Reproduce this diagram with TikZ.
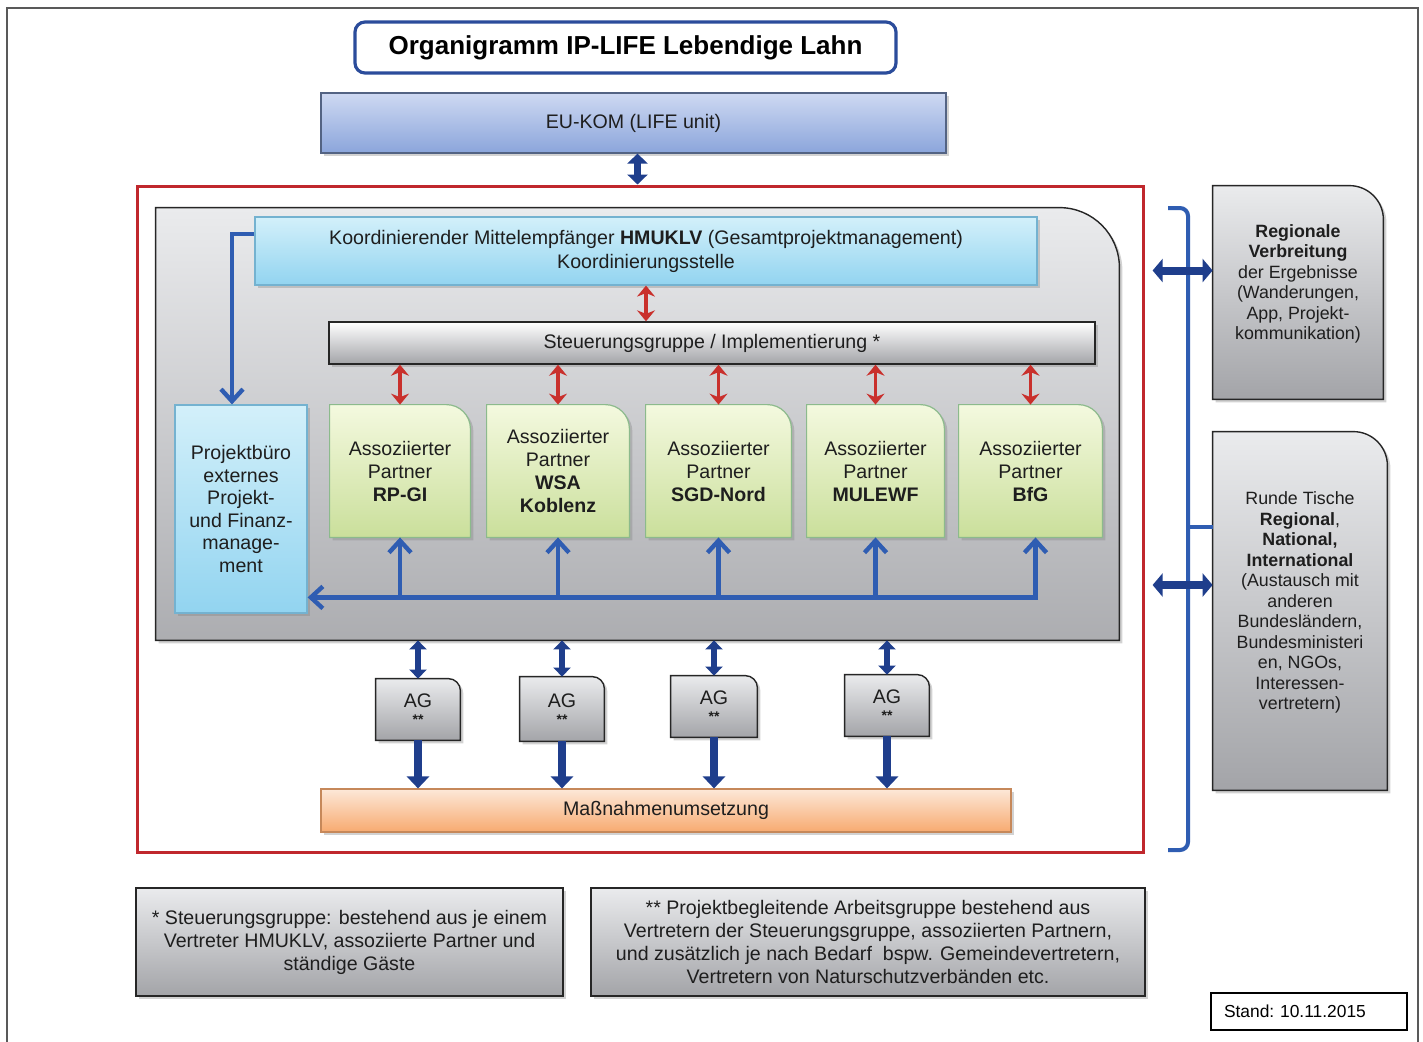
\documentclass[tikz,border=0pt]{standalone}
\usepackage{fontspec}
\setmainfont{Liberation Sans}
\usepackage{tikz}
\usetikzlibrary{calc}
\usetikzlibrary{arrows.meta}
\usetikzlibrary{shadows}
\pgfdeclarelayer{background}
\pgfsetlayers{background,main}

\definecolor{navy}{HTML}{1F3E8C}
\definecolor{linkblue}{HTML}{2F5DB2}
\definecolor{titleblue}{HTML}{2B4C9B}
\definecolor{framered}{HTML}{C0282D}
\definecolor{arrowred}{HTML}{C9302C}
\definecolor{textgray}{HTML}{1E1E1E}
\definecolor{grayhi}{HTML}{EAEBED}
\definecolor{graylo}{HTML}{A3A4A8}
\definecolor{euhi}{HTML}{CED9F2}
\definecolor{eulo}{HTML}{8BA5DB}
\definecolor{cyanhi}{HTML}{D3F0FA}
\definecolor{cyanlo}{HTML}{92D4F0}
\definecolor{greenhi}{HTML}{F4F9DF}
\definecolor{greenlo}{HTML}{CADF9B}
\definecolor{orangehi}{HTML}{FDE8D8}
\definecolor{orangelo}{HTML}{F7AA70}
\colorlet{greenline}{green!40!black!45}
\definecolor{cyanline}{HTML}{74B2D0}

\tikzset{
	box/.style={inner sep=0pt, align=center, text=textgray, font=\fontsize{9.8}{11.5}\selectfont},
	shade/.style={drop shadow={opacity=0.35, shadow xshift=1.5pt, shadow yshift=-1.5pt}},
	grayfill/.style={draw=black!85, line width=0.7pt, top color=#1, bottom color=graylo},
	grayfill/.default={grayhi},
	greenfill/.style={draw=greenline, line width=0.6pt, top color=greenhi, bottom color=greenlo, shade},
	cyanfill/.style={draw=cyanline, line width=0.6pt, top color=cyanhi, bottom color=cyanlo, shade},
	redarrow/.style={draw=arrowred, line width=1.8pt, {Stealth[length=5.5pt,width=9pt]}-{Stealth[length=5.5pt,width=9pt]}},
	navyboth/.style={draw=navy, line width=3pt, {Triangle[length=4.5pt,width=8.5pt]}-{Triangle[length=4.5pt,width=8.5pt]}},
	navydown/.style={draw=navy, line width=4pt, -{Triangle[length=6pt,width=11pt]}},
	bus/.style={draw=linkblue, line width=2.2pt},
	barb/.tip={Straight Barb[length=6pt,width=11pt]}
}

% box with one round corner (top right), drawn behind its node
\newcommand{\trframe}[3]{%
	\begin{pgfonlayer}{background}
		\draw[#3] (#1.south west) -- (#1.north west) -- ([xshift=-#2]#1.north east)
			arc[start angle=90, end angle=0, radius=#2] -- (#1.south east) -- cycle;
	\end{pgfonlayer}}

\begin{document}
\begin{tikzpicture}[x=0.5pt, y=-0.5pt]
	\useasboundingbox (0,0) rectangle (1423,1041);
	\begin{pgfonlayer}{background}
		\fill [white] (0,0) rectangle (1423,1041);
	\end{pgfonlayer}
	\draw [black!65, line width=0.8pt] (7,1060) -- (7,8) -- (1418,8) -- (1418,1060);

	%Title

	\node (title) [draw=titleblue, line width=1.6pt, rounded corners=5pt, minimum width=270.5pt, minimum height=25.5pt, inner sep=0pt, font=\fontsize{13}{15}\selectfont\bfseries] at (625.5,47.5) {Organigramm IP-LIFE Lebendige Lahn};

	\node (eu) [box, draw=eulo!60!black, line width=0.6pt, top color=euhi, bottom color=eulo, shade, minimum width=312.5pt, minimum height=30pt] at (633.5,123) {EU-KOM (LIFE unit)};

	%Project frame

	\node (frame) [draw=framered, line width=1.5pt, minimum width=503pt, minimum height=333pt, inner sep=0pt] at (640,519) {};

	\node (core) [box, minimum width=481.5pt, minimum height=216pt] at (637.5,424) {};
	\trframe{core}{30pt}{grayfill, bottom color=graylo!90!white, shade}

	\node (koord) [box, cyanfill, minimum width=391pt, minimum height=34pt, font=\fontsize{9.8}{12}\selectfont] at (646,251) {Koordinierender Mittelempfänger \textbf{HMUKLV} (Gesamtprojektmanagement)\\Koordinierungsstelle};

	\node (steuer) [box, grayfill=white, shade, minimum width=383pt, minimum height=21pt] at (712,343) {Steuerungsgruppe / Implementierung *};

	\node (buero) [box, cyanfill, minimum width=66pt, minimum height=104pt, font=\fontsize{9.8}{11.3}\selectfont] at (241,509) {Projektbüro\\externes\\Projekt-\\und Finanz-\\manage-\\ment};

	%Partner

	\node (p1) [box, minimum width=70pt, minimum height=66pt] at (400,471) {Assoziierter\\Partner\\\textbf{RP-GI}};
	\node (p2) [box, minimum width=71pt, minimum height=66pt] at (558,471) {Assoziierter\\Partner\\\textbf{WSA}\\\textbf{Koblenz}};
	\node (p3) [box, minimum width=72.5pt, minimum height=66pt] at (718.5,471) {Assoziierter\\Partner\\\textbf{SGD-Nord}};
	\node (p4) [box, minimum width=68.5pt, minimum height=66pt] at (875.5,471) {Assoziierter\\Partner\\\textbf{MULEWF}};
	\node (p5) [box, minimum width=71.5pt, minimum height=66pt] at (1030.5,471) {Assoziierter\\Partner\\\textbf{BfG}};
	\foreach \p in {p1,p2,p3,p4,p5} {\trframe{\p}{12pt}{greenfill}}

	%AG

	\node (ag1) [box, minimum width=42pt, minimum height=30.5pt] at (418,709.5) {AG\\[-3pt]{\scriptsize\bfseries **}};
	\node (ag2) [box, minimum width=42pt, minimum height=32pt] at (562,709) {AG\\[-3pt]{\scriptsize\bfseries **}};
	\node (ag3) [box, minimum width=43pt, minimum height=30.5pt] at (714,706.5) {AG\\[-3pt]{\scriptsize\bfseries **}};
	\node (ag4) [box, minimum width=42pt, minimum height=30.5pt] at (887,705.5) {AG\\[-3pt]{\scriptsize\bfseries **}};
	\foreach \a in {ag1,ag2,ag3,ag4} {\trframe{\a}{6pt}{grayfill, shade}}

	\node (mass) [box, draw=orangelo!80!black, line width=0.6pt, top color=orangehi, bottom color=orangelo, shade, minimum width=345pt, minimum height=21.5pt] at (666,810.5) {Maßnahmenumsetzung};

	%Right side

	\node (reg) [box, minimum width=85pt, minimum height=106.5pt, font=\fontsize{8.9}{10.25}\selectfont] at (1298,292.5) {\textbf{Regionale}\\\textbf{Verbreitung}\\der Ergebnisse\\(Wanderungen,\\App, Projekt-\\kommunikation)\\~};
	\trframe{reg}{17pt}{grayfill, shade}

	\node (rund) [box, minimum width=87pt, minimum height=179pt, font=\fontsize{8.9}{10.25}\selectfont] at (1300,611) {Runde Tische\\\textbf{Regional},\\\textbf{National,}\\\textbf{International}\\(Austausch mit\\anderen\\Bundesländern,\\Bundesministeri\\en, NGOs,\\Interessen-\\vertretern)\\~};
	\trframe{rund}{17pt}{grayfill, shade}

	%Notes

	\node (note1) [box, grayfill, shade, minimum width=213.5pt, minimum height=54pt] at (349.5,942) {* Steuerungsgruppe: bestehend aus je einem\\Vertreter HMUKLV, assoziierte Partner und\\ständige Gäste};
	\node (note2) [box, grayfill, shade, minimum width=277pt, minimum height=54pt] at (868,942) {** Projektbegleitende Arbeitsgruppe bestehend aus\\Vertretern der Steuerungsgruppe, assoziierten Partnern,\\und zusätzlich je nach Bedarf\ \ bspw. Gemeindevertretern,\\Vertretern von Naturschutzverbänden etc.};

	\node (stand) [draw=black, line width=0.6pt, fill=white, inner xsep=6.5pt, inner ysep=0pt, text width=85pt, align=left, minimum height=18.5pt, font=\fontsize{8.7}{10}\selectfont] at (1309,1011.5) {Stand:\ 10.11.2015};

	%Connectors

	\draw [draw=navy, line width=3.5pt, {Triangle[length=5pt,width=10pt]}-{Triangle[length=5pt,width=10pt]}] ([xshift=2pt]eu.south) -- ([xshift=2pt]eu.south |- frame.north);

	\draw [redarrow] (koord.south) -- (koord.south |- steuer.north);
	\foreach \p in {p1,p2,p3,p4,p5} {\draw [redarrow] (\p.north |- steuer.south) -- (\p.north);}

	\draw [bus, -barb] ([yshift=8.5pt]koord.west) -| ([xshift=-4.5pt]buero.north);

	\coordinate (busR) at ([xshift=2.5pt, yshift=-30pt]p5.south);
	\draw [bus, barb-barb] ([xshift=2.5pt]p5.south) -- (busR) -- (busR -| buero.east);
	\foreach \p in {p1,p2,p3,p4} {\draw [bus, -barb] (busR -| \p.south) -- (\p.south);}

	\foreach \a in {ag1,ag2,ag3,ag4} {
		\draw [navyboth] (\a.north |- core.south) -- (\a.north);
		\draw [navydown] (\a.south) -- (\a.south |- mass.north);
	}

	\draw [linkblue, line width=2pt, rounded corners=4pt] (1168,208) -- (1188,208) -- (1188,850) -- (1168,850);
	\coordinate (brace) at (1188,527);
	\draw [linkblue, line width=2pt] (brace) -- (brace -| rund.west);

	\draw [navyboth, line width=4pt, {Triangle[length=5pt,width=11.5pt]}-{Triangle[length=5pt,width=11.5pt]}] ([shift={(-30pt,11pt)}]reg.west) -- ([yshift=11pt]reg.west);
	\draw [navyboth, line width=4pt, {Triangle[length=5pt,width=11.5pt]}-{Triangle[length=5pt,width=11.5pt]}] ([shift={(-30pt,13pt)}]rund.west) -- ([yshift=13pt]rund.west);

\end{tikzpicture}
\end{document}
